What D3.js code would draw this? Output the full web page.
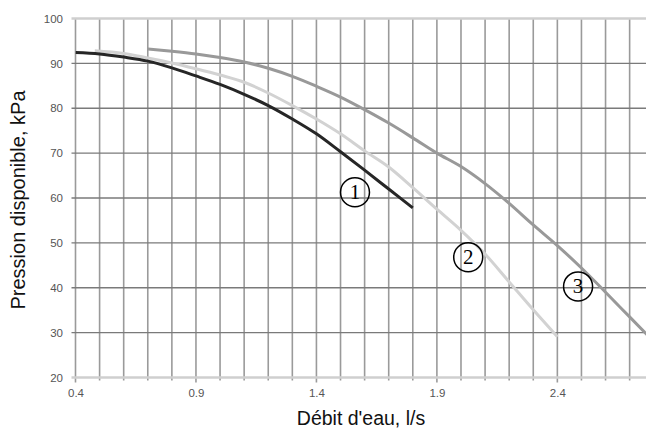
<!DOCTYPE html>
<html><head><meta charset="utf-8">
<script src="https://cdn.jsdelivr.net/npm/d3@7"></script>
<style>body{margin:0;background:#fff}svg{display:block}</style>
</head><body><svg id="c" width="646" height="430"></svg>
<script>
const xTicks = [0.4, 0.9, 1.4, 1.9, 2.4];
const yTicks = [20, 30, 40, 50, 60, 70, 80, 90, 100];
const curve1X = [0.4, 0.5, 0.6, 0.7, 0.8, 0.9, 1.0, 1.1, 1.2, 1.3, 1.4, 1.5, 1.6, 1.7, 1.8];
const curve1Y = [92.4, 92.1, 91.4, 90.5, 89.0, 87.2, 85.3, 83.1, 80.6, 77.6, 74.3, 70.3, 66.2, 62.0, 57.8];
const curve2X = [0.48, 0.6, 0.7, 0.8, 0.9, 1.0, 1.1, 1.2, 1.3, 1.4, 1.5, 1.6, 1.7, 1.8, 1.9, 2.0, 2.1, 2.2, 2.3, 2.4];
const curve2Y = [92.8, 92.2, 91.2, 90.1, 88.8, 87.4, 85.8, 83.4, 80.6, 77.6, 74.3, 70.5, 66.9, 62.3, 57.5, 52.8, 47.5, 41.3, 35.1, 29.1];
const curve3X = [0.7, 0.8, 0.9, 1.0, 1.1, 1.2, 1.3, 1.4, 1.5, 1.6, 1.7, 1.8, 1.9, 2.0, 2.1, 2.2, 2.3, 2.4, 2.5, 2.6, 2.7, 2.8];
const curve3Y = [93.2, 92.7, 92.1, 91.3, 90.3, 88.9, 87.1, 84.9, 82.5, 79.7, 76.7, 73.4, 70.0, 67.0, 63.2, 58.8, 54.0, 49.4, 44.4, 39.0, 33.5, 28.0];
const labels = ["1", "2", "3"];
const labelX = [1.56, 2.03, 2.486];
const labelY = [61.3, 46.8, 40.3];

const svg = d3.select("#c");
const x = d3.scaleLinear().domain([0.4, 2.77]).range([75.5, 646.5]);
const y = d3.scaleLinear().domain([20, 100]).range([377.5, 18.5]);

const defs = svg.append("defs");
defs.append("clipPath").attr("id","clip").append("rect")
  .attr("x", x(0.4)).attr("y", y(100)-2).attr("width", 646 - x(0.4)).attr("height", y(20)-y(100)+4);

// vertical grid lines every 0.1
const vgrid = d3.range(0, 24).map(i => +(0.4 + i*0.1).toFixed(1));
svg.append("g").selectAll("line").data(vgrid).join("line")
  .attr("x1", d => x(d)).attr("x2", d => x(d))
  .attr("y1", y(100)).attr("y2", d => y(20) + (xTicks.includes(d) ? 5 : 3))
  .attr("stroke", "#9a9a9a").attr("stroke-width", 1.6);

// horizontal grid
svg.append("g").selectAll("line").data(yTicks).join("line")
  .attr("x1", x(0.4) - 4).attr("x2", 646)
  .attr("y1", d => y(d)).attr("y2", d => y(d))
  .attr("stroke", d => (d === 20 || d === 100) ? "#cfcfcf" : "#7a7a7a")
  .attr("stroke-width", d => (d === 20 || d === 100) ? 2.5 : 1.4);

// axes labels via d3 axes
const yAxis = d3.axisLeft(y).tickValues(yTicks).tickSize(0).tickPadding(12.5);
const gy = svg.append("g").attr("transform", `translate(${x(0.4)},0)`).call(yAxis);
gy.select(".domain").remove();
gy.selectAll("text").attr("font-family", "Liberation Sans, Arial, sans-serif").attr("font-size", 11.5).attr("fill", "#555");

const xAxis = d3.axisBottom(x).tickValues(xTicks).tickSize(0).tickPadding(11).tickFormat(d3.format(".1f"));
const gx = svg.append("g").attr("transform", `translate(0,${y(20)})`).call(xAxis);
gx.select(".domain").remove();
gx.selectAll("text").attr("font-family", "Liberation Sans, Arial, sans-serif").attr("font-size", 11.5).attr("fill", "#555");

// curves
const line = d3.line().x(d => x(d[0])).y(d => y(d[1])).curve(d3.curveMonotoneX);
const curves = [
  {xs: curve2X, ys: curve2Y, color: "#d2d2d2"},
  {xs: curve3X, ys: curve3Y, color: "#999999"},
  {xs: curve1X, ys: curve1Y, color: "#262626"}
];
const gc = svg.append("g").attr("clip-path", "url(#clip)");
curves.forEach(c => {
  gc.append("path").datum(c.xs.map((v, i) => [v, c.ys[i]]))
    .attr("d", line).attr("fill", "none").attr("stroke", c.color)
    .attr("stroke-width", 3).attr("stroke-linecap", "butt");
});

// circled labels
const gl = svg.append("g");
labels.forEach((t, i) => {
  const cx = x(labelX[i]), cy = y(labelY[i]);
  gl.append("circle").attr("cx", cx).attr("cy", cy).attr("r", 14.5)
    .attr("fill", "none").attr("stroke", "#000").attr("stroke-width", 1.5);
  gl.append("text").attr("x", cx).attr("y", cy + 7).attr("text-anchor", "middle")
    .attr("font-family", "Liberation Serif, Times New Roman, serif").attr("font-size", 21).attr("fill", "#000").text(t);
});

// axis titles
svg.append("text").attr("x", 361).attr("y", 425).attr("text-anchor", "middle")
  .attr("font-family", "Liberation Sans, Arial, sans-serif").attr("font-size", 19.5).attr("fill", "#111")
  .text("Débit d'eau, l/s");
svg.append("text").attr("transform", "translate(25,200) rotate(-90)").attr("text-anchor", "middle")
  .attr("font-family", "Liberation Sans, Arial, sans-serif").attr("font-size", 20).attr("fill", "#111")
  .text("Pression disponible, kPa");
</script></body></html>
